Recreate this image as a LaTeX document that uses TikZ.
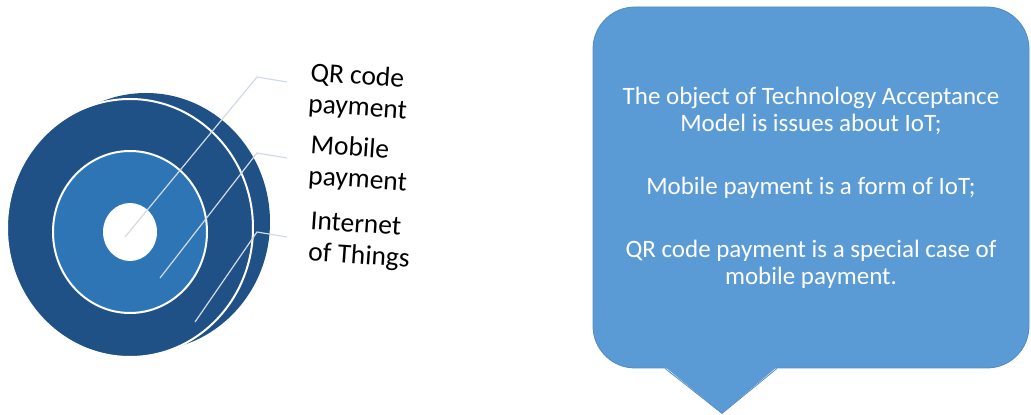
\documentclass[tikz,border=0pt]{standalone}
\usepackage{fontspec}
\setmainfont{Carlito}
\usetikzlibrary{positioning}
\definecolor{darkdisk}{HTML}{1F5186}
\definecolor{lightdisk}{HTML}{2E75B6}
\definecolor{calloutblue}{HTML}{5B9BD5}
\definecolor{calloutedge}{HTML}{4F8AC4}
\definecolor{leadergray}{HTML}{D3DAE6}

\begin{document}
\begin{tikzpicture}[x=1pt, y=1pt,
    label/.style={anchor=west, align=left, rotate=-4, font=\fontsize{27.5}{31}\selectfont},
    leader/.style={draw=leadergray, line width=1.2pt}]
    \useasboundingbox (0,0) rectangle (1031,415);

    % Disk layers
    \fill [darkdisk] (146,193) ellipse [x radius=124, y radius=129]; % back rim of the disk
    \filldraw [fill=darkdisk, draw=white, line width=2pt] (130,187) ellipse [x radius=123, y radius=129]; % Internet of Things
    \filldraw [fill=lightdisk, draw=white, line width=2pt] (130,183) ellipse [x radius=77, y radius=81]; % Mobile payment
    \fill [white] (130,183) ellipse [x radius=27, y radius=29]; % QR code payment

    % Labels
    \node [label] (QR) at (306,326) {QR code\\payment};
    \node [label] (Mobile) at (306,254) {Mobile\\payment};
    \node [label] (IoT) at (306,177) {Internet\\of Things};

    % Leader points
    \coordinate (qrIn) at (125,178);
    \coordinate (qrBend) at (257,338);
    \coordinate (qrOut) at (287,333);
    \coordinate (mobIn) at (160,137);
    \coordinate (mobBend) at (257,262);
    \coordinate (mobOut) at (287,257);
    \coordinate (iotIn) at (195,93);
    \coordinate (iotBend) at (257,183);
    \coordinate (iotOut) at (287,178);

    % Leaders
    \draw [leader] (qrIn) -- (qrBend) -- (qrOut); % to QR code payment
    \draw [leader] (mobIn) -- (mobBend) -- (mobOut); % to Mobile payment
    \draw [leader] (iotIn) -- (iotBend) -- (iotOut); % to Internet of Things

    % Callout
    \node [draw=calloutedge, line width=0.8pt, fill=calloutblue, rounded corners=42pt,
           minimum width=436pt, minimum height=361pt, text=white, align=center,
           font=\fontsize{25}{27}\selectfont] (note) at (811,227.5)
          {The object of Technology Acceptance\\Model is issues about IoT;\\[36pt]
           Mobile payment is a form of IoT;\\[36pt]
           QR code payment is a special case of\\mobile payment.};
    \coordinate (tailL) at ([xshift=-146pt, yshift=1.5pt]note.south);
    \coordinate (tailR) at ([xshift=-34pt, yshift=1.5pt]note.south);
    \coordinate (tailTip) at ([xshift=-89pt, yshift=-45pt]note.south);
    \fill [calloutblue] (tailL) -- (tailTip) -- (tailR) -- cycle; % tail
    \draw [calloutedge, line width=0.8pt] ([yshift=-1.5pt]tailL) -- (tailTip) -- ([yshift=-1.5pt]tailR);

\end{tikzpicture}
\end{document}
